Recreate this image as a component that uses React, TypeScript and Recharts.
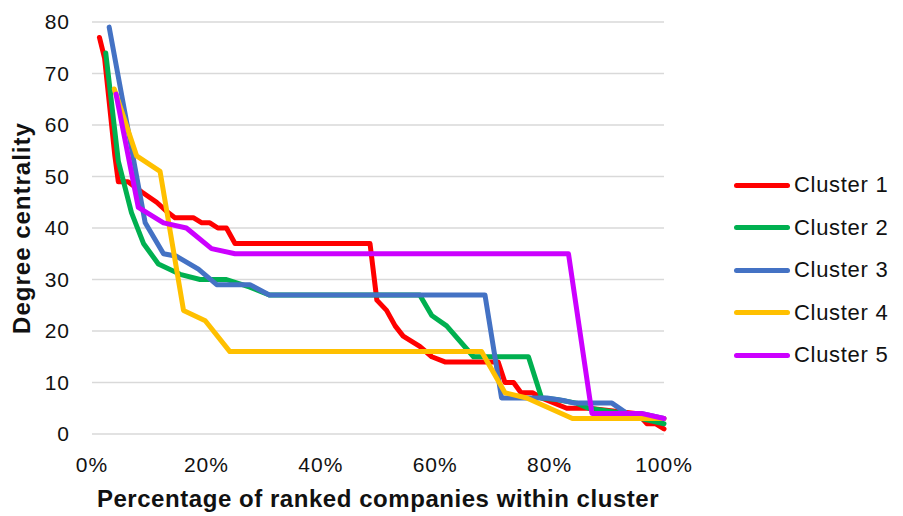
import { CartesianGrid, Label, Line, LineChart, XAxis, YAxis } from "recharts";

// Degree centrality of ranked companies, one line per cluster.
// x = position of the company in its cluster's ranking (% of cluster size).

const X_TICKS = [0, 20, 40, 60, 80, 100];
const Y_TICKS = [0, 10, 20, 30, 40, 50, 60, 70, 80];

const CLUSTER_NAMES = ["Cluster 1", "Cluster 2", "Cluster 3", "Cluster 4", "Cluster 5"];
const CLUSTER_COLORS = ["#FF0000", "#00B050", "#4472C4", "#FFC000", "#CC00FF"];

const CLUSTER_1_PCT = [1.3, 2.2, 4, 4.6, 6.3, 8.7, 11.3, 13.3, 14.5, 17.7, 19.2, 20.6, 22, 23.5, 25, 48.6, 49.8, 51.5, 53, 54.4, 57.3, 59.4, 61.7, 71, 72.2, 73.7, 75, 77, 78.6, 83, 86.8, 95, 96.2, 97, 98.5, 100];
const CLUSTER_1_DEGREE = [77, 73, 54, 49, 49, 47, 45, 43, 42, 42, 41, 41, 40, 40, 37, 37, 26, 24, 21, 19, 17, 15, 14, 14, 10, 10, 8, 8, 7, 5, 5, 4, 3, 2, 2, 1];

const CLUSTER_2_PCT = [2.4, 4.6, 6.9, 9, 11.6, 15.4, 18.9, 23.5, 27.6, 31, 57.3, 59.4, 62, 66.7, 76.3, 78.6, 81.2, 84.7, 86.8, 93, 96, 100];
const CLUSTER_2_DEGREE = [74, 53, 43, 37, 33, 31, 30, 30, 28.5, 27, 27, 23, 21, 15, 15, 7, 6.7, 6, 5, 4, 3, 2];

const CLUSTER_3_PCT = [3, 9.3, 12.5, 14.8, 18.6, 21.8, 27.6, 31, 68.7, 71.6, 76, 79.5, 82.4, 84.4, 90.9, 93.5, 96, 100];
const CLUSTER_3_DEGREE = [79, 41, 35, 34.5, 32, 29, 29, 27, 27, 7, 7, 7, 6.5, 6, 6, 4, 4, 3];

const CLUSTER_4_PCT = [3.9, 7.8, 11.9, 16, 19.8, 24.1, 68.1, 72.2, 76, 84, 96, 100];
const CLUSTER_4_DEGREE = [67, 54, 51, 24, 22, 16, 16, 8, 7, 3, 3, 3];

const CLUSTER_5_PCT = [4.2, 8.1, 12.5, 16.5, 20.9, 25, 83.3, 87.4, 96, 100];
const CLUSTER_5_DEGREE = [66, 44, 41, 40, 36, 35, 35, 4, 4, 3];

const zip = (xs: number[], ys: number[]) => xs.map((x, i) => ({ x, y: ys[i] }));

const SERIES = [
  zip(CLUSTER_1_PCT, CLUSTER_1_DEGREE),
  zip(CLUSTER_2_PCT, CLUSTER_2_DEGREE),
  zip(CLUSTER_3_PCT, CLUSTER_3_DEGREE),
  zip(CLUSTER_4_PCT, CLUSTER_4_DEGREE),
  zip(CLUSTER_5_PCT, CLUSTER_5_DEGREE),
];

const FONT = '"Liberation Sans", Arial, sans-serif';
const INK = "#111";
const TICK_STYLE = { fontSize: 21, fill: INK, fontFamily: FONT, letterSpacing: 1 };

function YTitle(props: any) {
  const vb = props.viewBox ?? { x: 0, y: 0, height: 0 };
  const cx = 30;
  const cy = vb.y + vb.height / 2;
  return (
    <text
      x={cx}
      y={cy}
      transform={`rotate(-90 ${cx} ${cy})`}
      textAnchor="middle"
      fontFamily={FONT}
      fontWeight="bold"
      fontSize={24}
      letterSpacing={1}
      fill={INK}
    >
      Degree centrality
    </text>
  );
}

function Legend() {
  return (
    <div
      style={{
        position: "absolute",
        left: 734,
        top: 164,
        fontFamily: FONT,
        fontSize: 22,
        letterSpacing: 0.7,
        color: INK,
      }}
    >
      {CLUSTER_NAMES.map((name, i) => (
        <div
          key={name}
          style={{ height: 42.5, display: "flex", alignItems: "center" }}
        >
          <span
            style={{
              display: "inline-block",
              width: 56,
              height: 5,
              borderRadius: 3,
              background: CLUSTER_COLORS[i],
              marginRight: 4,
            }}
          />
          {name}
        </div>
      ))}
    </div>
  );
}

export default function App() {
  return (
    <div
      style={{
        position: "absolute",
        left: 0,
        top: 0,
        width: 903,
        height: 516,
        background: "#fff",
      }}
    >
      <LineChart
        width={903}
        height={516}
        margin={{ top: 22, right: 239, bottom: 0, left: 0 }}
      >
        <CartesianGrid
          vertical={false}
          stroke="#d9d9d9"
          strokeWidth={1.5}
        />
        <XAxis
          dataKey="x"
          type="number"
          domain={[0, 100]}
          ticks={X_TICKS}
          tickFormatter={(v: number) => `${v}%`}
          axisLine={false}
          tickLine={false}
          tickSize={0}
          tickMargin={23}
          height={82}
          tick={TICK_STYLE}
          allowDuplicatedCategory={false}
        >
          <Label
            value="Percentage of ranked companies within cluster"
            position="insideBottom"
            offset={9}
            style={{
              fontSize: 24,
              fontWeight: "bold",
              fill: INK,
              fontFamily: FONT,
              letterSpacing: 0.55,
            }}
          />
        </XAxis>
        <YAxis
          type="number"
          domain={[0, 80]}
          ticks={Y_TICKS}
          axisLine={false}
          tickLine={false}
          tickSize={0}
          tickMargin={22}
          width={92}
          tick={TICK_STYLE}
        >
          <Label content={<YTitle />} />
        </YAxis>
        {SERIES.map((points, i) => (
          <Line
            key={CLUSTER_NAMES[i]}
            data={points}
            dataKey="y"
            name={CLUSTER_NAMES[i]}
            type="linear"
            stroke={CLUSTER_COLORS[i]}
            strokeWidth={5}
            strokeLinejoin="round"
            strokeLinecap="round"
            dot={false}
            activeDot={false}
            isAnimationActive={false}
          />
        ))}
      </LineChart>
      <Legend />
    </div>
  );
}
